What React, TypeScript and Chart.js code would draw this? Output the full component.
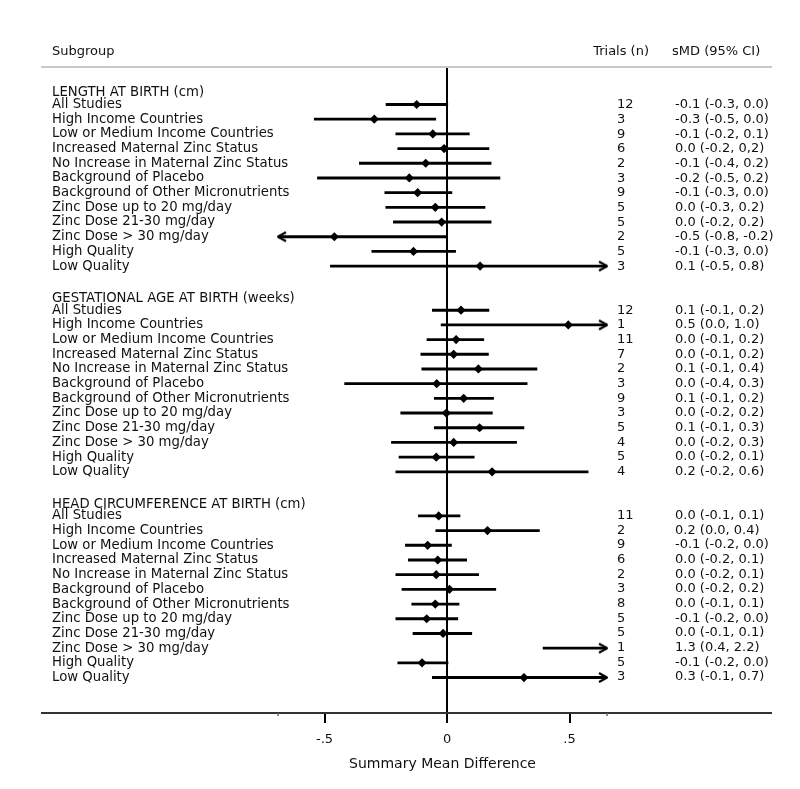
import React, { useEffect, useRef } from "react";
import { Chart, registerables } from "chart.js";

Chart.register(...registerables);

// ---------------- data ----------------
const headerTexts = ["Subgroup", "Trials (n)", "sMD (95% CI)"];
const xTitle = "Summary Mean Difference";
const xTickValues = [-0.5, 0, 0.5];
const xTickLabels = ["-.5", "0", ".5"];
const X_MIN = -0.69;
const X_MAX = 0.653;

const sections = [
  "LENGTH AT BIRTH (cm)",
  "GESTATIONAL AGE AT BIRTH (weeks)",
  "HEAD CIRCUMFERENCE AT BIRTH (cm)",
];

const subgroups = [
  "All Studies",
  "High Income Countries",
  "Low or Medium Income Countries",
  "Increased Maternal Zinc Status",
  "No Increase in Maternal Zinc Status",
  "Background of Placebo",
  "Background of Other Micronutrients",
  "Zinc Dose up to 20 mg/day",
  "Zinc Dose 21-30 mg/day",
  "Zinc Dose > 30 mg/day",
  "High Quality",
  "Low Quality",
];

const lengthTrials = [12, 3, 9, 6, 2, 3, 9, 5, 5, 2, 5, 3];
const gestTrials = [12, 1, 11, 7, 2, 3, 9, 3, 5, 4, 5, 4];
const headTrials = [11, 2, 9, 6, 2, 3, 8, 5, 5, 1, 5, 3];

const lengthEst = [-0.124, -0.297, -0.058, -0.012, -0.087, -0.154, -0.12, -0.048, -0.022, -0.46, -0.137, 0.135];
const lengthLo = [-0.249, -0.542, -0.209, -0.201, -0.358, -0.529, -0.254, -0.25, -0.219, -0.8, -0.307, -0.476];
const lengthHi = [0.003, -0.046, 0.091, 0.171, 0.18, 0.216, 0.02, 0.155, 0.18, -0.001, 0.035, 0.8];

const gestEst = [0.057, 0.495, 0.037, 0.027, 0.128, -0.042, 0.068, -0.003, 0.133, 0.027, -0.044, 0.184];
const gestLo = [-0.06, -0.024, -0.082, -0.107, -0.103, -0.418, -0.052, -0.189, -0.052, -0.227, -0.196, -0.209];
const gestHi = [0.171, 1.0, 0.15, 0.169, 0.367, 0.327, 0.19, 0.185, 0.314, 0.284, 0.111, 0.576];

const headEst = [-0.034, 0.165, -0.079, -0.038, -0.044, 0.01, -0.048, -0.083, -0.016, 1.3, -0.102, 0.314];
const headLo = [-0.117, -0.046, -0.17, -0.158, -0.209, -0.184, -0.144, -0.209, -0.139, 0.392, -0.201, -0.06];
const headHi = [0.053, 0.377, 0.018, 0.08, 0.129, 0.199, 0.049, 0.044, 0.101, 2.2, 0.004, 0.7];

const lengthCI = [
  "-0.1 (-0.3, 0.0)", "-0.3 (-0.5, 0.0)", "-0.1 (-0.2, 0.1)", "0.0 (-0.2, 0,2)",
  "-0.1 (-0.4, 0.2)", "-0.2 (-0.5, 0.2)", "-0.1 (-0.3, 0.0)", "0.0 (-0.3, 0.2)",
  "0.0 (-0.2, 0.2)", "-0.5 (-0.8, -0.2)", "-0.1 (-0.3, 0.0)", "0.1 (-0.5, 0.8)",
];
const gestCI = [
  "0.1 (-0.1, 0.2)", "0.5 (0.0, 1.0)", "0.0 (-0.1, 0.2)", "0.0 (-0.1, 0.2)",
  "0.1 (-0.1, 0.4)", "0.0 (-0.4, 0.3)", "0.1 (-0.1, 0.2)", "0.0 (-0.2, 0.2)",
  "0.1 (-0.1, 0.3)", "0.0 (-0.2, 0.3)", "0.0 (-0.2, 0.1)", "0.2 (-0.2, 0.6)",
];
const headCI = [
  "0.0 (-0.1, 0.1)", "0.2 (0.0, 0.4)", "-0.1 (-0.2, 0.0)", "0.0 (-0.2, 0.1)",
  "0.0 (-0.2, 0.1)", "0.0 (-0.2, 0.2)", "0.0 (-0.1, 0.1)", "-0.1 (-0.2, 0.0)",
  "0.0 (-0.1, 0.1)", "1.3 (0.4, 2.2)", "-0.1 (-0.2, 0.0)", "0.3 (-0.1, 0.7)",
];

// ---------------- derived table ----------------
const trialsBySection = [lengthTrials, gestTrials, headTrials];
const estBySection = [lengthEst, gestEst, headEst];
const loBySection = [lengthLo, gestLo, headLo];
const hiBySection = [lengthHi, gestHi, headHi];
const ciBySection = [lengthCI, gestCI, headCI];

type Row = {
  y: number;
  label: string;
  header?: boolean;
  trials?: string;
  ci?: string;
  est?: number;
  lo?: number;
  hi?: number;
};

const SECTION_ROWS = subgroups.length + 2;
const HEADER_SHIFT = 0.2;
const rows: Row[] = [];
sections.forEach((name, s) => {
  rows.push({ y: s * SECTION_ROWS + HEADER_SHIFT, label: name, header: true });
  subgroups.forEach((sg, j) => {
    rows.push({
      y: s * SECTION_ROWS + 1 + j,
      label: sg,
      trials: String(trialsBySection[s][j]),
      ci: ciBySection[s][j],
      est: estBySection[s][j],
      lo: loBySection[s][j],
      hi: hiBySection[s][j],
    });
  });
});
const items = rows.filter((r) => !r.header);

const arrowPoints: { x: number; y: number; dir: number }[] = [];
items.forEach((r) => {
  if ((r.hi as number) > X_MAX) arrowPoints.push({ x: X_MAX, y: r.y, dir: 1 });
  if ((r.lo as number) < X_MIN) arrowPoints.push({ x: X_MIN, y: r.y, dir: -1 });
});

const Y_MIN = -0.988;
const Y_MAX = 41.85;
const LEFT_AXIS_W = 226;
const FONT = "'DejaVu Sans', Verdana, sans-serif";

function makeArrow(dir: number): HTMLCanvasElement {
  const c = document.createElement("canvas");
  c.width = 26;
  c.height = 13;
  const g = c.getContext("2d") as CanvasRenderingContext2D;
  g.strokeStyle = "#000";
  g.lineWidth = 2.2;
  g.lineJoin = "round";
  const cx = 13;
  const cy = 6.5;
  g.beginPath();
  g.moveTo(cx - dir * 8, cy - 4.5);
  g.lineTo(cx, cy);
  g.lineTo(cx - dir * 8, cy + 4.5);
  g.stroke();
  return c;
}

const decorPlugin = {
  id: "forestDecor",
  afterDraw(chart: any) {
    const { ctx, chartArea, scales } = chart;
    const lineL = scales.y.left - 11;
    const lineR = scales.yCI.right - 13;
    ctx.save();
    // header rule
    ctx.strokeStyle = "#c8c8c8";
    ctx.lineWidth = 2;
    ctx.beginPath();
    ctx.moveTo(lineL, chartArea.top);
    ctx.lineTo(lineR, chartArea.top);
    ctx.stroke();
    // axis rule
    ctx.strokeStyle = "#333";
    ctx.lineWidth = 2;
    ctx.beginPath();
    ctx.moveTo(lineL, chartArea.bottom);
    ctx.lineTo(lineR, chartArea.bottom);
    ctx.stroke();
    // tiny end nubs
    ctx.lineWidth = 1.5;
    ctx.strokeStyle = "#666";
    [chartArea.left, chartArea.right].forEach((x: number) => {
      ctx.beginPath();
      ctx.moveTo(x, chartArea.bottom);
      ctx.lineTo(x, chartArea.bottom + 3);
      ctx.stroke();
    });
    // header texts
    ctx.fillStyle = "#111";
    ctx.font = `13px ${FONT}`;
    ctx.textBaseline = "middle";
    const hy = chartArea.top - 15;
    ctx.textAlign = "left";
    ctx.fillText(headerTexts[0], scales.y.left, hy);
    ctx.textAlign = "right";
    ctx.fillText(headerTexts[1], scales.yTrials.left + 42, hy);
    ctx.textAlign = "left";
    ctx.fillText(headerTexts[2], scales.yCI.left - 3, hy);
    ctx.restore();
  },
};

export default function App() {
  const ref = useRef<HTMLCanvasElement | null>(null);

  useEffect(() => {
    if (!ref.current) return;
    Chart.defaults.font.family = FONT;
    Chart.defaults.font.size = 13;
    Chart.defaults.color = "#000";

    const rightArrow = makeArrow(1);
    const leftArrow = makeArrow(-1);

    const sideAxis = (getText: (i: number) => string, weight: number, pad: number, width: number) => ({
      type: "linear",
      position: "right",
      reverse: true,
      min: Y_MIN,
      max: Y_MAX,
      weight,
      afterBuildTicks: (s: any) => {
        s.ticks = items.map((r) => ({ value: r.y }));
      },
      afterFit: (s: any) => {
        s.width = width;
      },
      ticks: {
        autoSkip: false,
        crossAlign: "near",
        padding: pad,
        color: "#111",
        callback: (_v: any, i: number) => getText(i),
      },
      grid: { display: false, drawTicks: false },
      border: { display: false },
    });

    const chart = new Chart(ref.current, {
      type: "bar",
      data: {
        datasets: [
          {
            type: "bar",
            label: "CI",
            indexAxis: "y",
            data: items.map((r) => ({ x: [r.lo, r.hi], y: r.y })),
            backgroundColor: "#000",
            borderWidth: 0,
            barThickness: 2.2,
            clip: 0,
            xAxisID: "x",
            yAxisID: "y",
          } as any,
          {
            type: "scatter",
            label: "Estimate",
            data: items.map((r) => ({ x: r.est, y: r.y })),
            pointStyle: "rectRot",
            pointRadius: 4.6,
            backgroundColor: "#000",
            borderColor: "#000",
            borderWidth: 0,
            clip: 0,
            xAxisID: "x",
            yAxisID: "y",
          } as any,
          {
            type: "scatter",
            label: "Arrows",
            data: arrowPoints.map((a) => ({ x: a.x, y: a.y })),
            pointStyle: arrowPoints.map((a) => (a.dir > 0 ? rightArrow : leftArrow)),
            pointRadius: 6,
            clip: false,
            xAxisID: "x",
            yAxisID: "y",
          } as any,
        ],
      },
      options: {
        indexAxis: "y",
        animation: false,
        responsive: true,
        maintainAspectRatio: false,
        events: [],
        layout: { padding: { left: 44, right: 7, top: 59, bottom: 0 } },
        plugins: {
          legend: { display: false },
          tooltip: { enabled: false },
        },
        scales: {
          x: {
            type: "linear",
            position: "bottom",
            min: X_MIN,
            max: X_MAX,
            afterBuildTicks: (s: any) => {
              s.ticks = xTickValues.map((v) => ({ value: v }));
            },
            afterFit: (s: any) => {
              s.height = 68;
            },
            ticks: {
              autoSkip: false,
              maxRotation: 0,
              padding: 9,
              color: "#111",
              callback: (_v: any, i: number) => xTickLabels[i],
            },
            grid: {
              drawOnChartArea: true,
              drawTicks: true,
              color: (c: any) => (c.tick && c.tick.value === 0 ? "#000" : "rgba(0,0,0,0)"),
              tickColor: "#000",
              lineWidth: 2,
              tickWidth: 2,
              tickLength: 10,
            },
            border: { display: false },
            title: {
              display: true,
              text: xTitle,
              color: "#111",
              font: { size: 14 },
              padding: { top: 0, bottom: 8 },
            },
          },
          y: {
            type: "linear",
            position: "left",
            reverse: true,
            min: Y_MIN,
            max: Y_MAX,
            afterBuildTicks: (s: any) => {
              s.ticks = rows.map((r) => ({ value: r.y }));
            },
            afterFit: (s: any) => {
              s.width = LEFT_AXIS_W;
            },
            ticks: {
              autoSkip: false,
              mirror: true,
              crossAlign: "near",
              padding: -LEFT_AXIS_W,
              color: "#111",
              font: { size: 13.25 },
              callback: (_v: any, i: number) => rows[i].label,
            },
            grid: { display: false, drawTicks: false },
            border: { display: false },
          },
          yTrials: sideAxis((i) => items[i].trials as string, 0, 10, 68),
          yCI: sideAxis((i) => items[i].ci as string, 1, 0, 110),
        } as any,
      },
      plugins: [decorPlugin],
    } as any);

    return () => chart.destroy();
  }, []);

  return (
    <div style={{ position: "relative", width: "100%", height: 773 }}>
      <canvas ref={ref} />
    </div>
  );
}
